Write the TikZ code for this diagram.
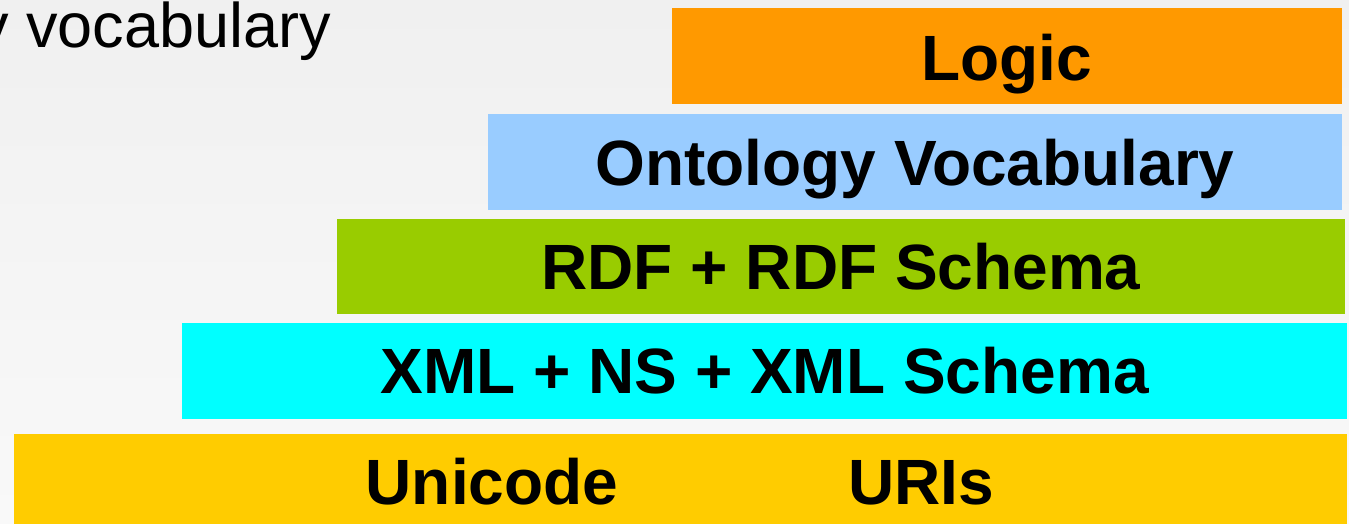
\documentclass[tikz,border=0pt]{standalone}
\usepackage{fontspec}
\setmainfont{Liberation Sans}
\begin{document}
\begin{tikzpicture}[x=1pt,y=-1pt,
  layer/.style={draw=none,inner sep=0pt,outer sep=0pt,anchor=north west},
  lbl/.style={inner sep=0pt,anchor=base,font=\fontsize{64}{70}\selectfont\bfseries,text=black},
  plain/.style={inner sep=0pt,anchor=base west,font=\fontsize{63}{70}\selectfont,text=black}]
\useasboundingbox (0,0) rectangle (1349,523);
\clip (0,0) rectangle (1349,523);
\shade[top color={rgb,255:red,240;green,240;blue,240},bottom color={rgb,255:red,249;green,249;blue,249}] (0,0) rectangle (1349,523);
\definecolor{clogic}{RGB}{255,153,0}
\definecolor{conto}{RGB}{153,204,255}
\definecolor{crdf}{RGB}{153,204,0}
\definecolor{cxml}{RGB}{0,255,255}
\definecolor{cuni}{RGB}{255,204,0}
\node[plain] (cut) at (-23,47) {y vocabulary};
\node[layer,fill=clogic,minimum width=670pt,minimum height=96pt] (logic) at (672,8) {};
\node[layer,fill=conto,minimum width=854pt,minimum height=96pt] (onto) at (488,114) {};
\node[layer,fill=crdf,minimum width=1008pt,minimum height=95pt] (rdf) at (337,219) {};
\node[layer,fill=cxml,minimum width=1165pt,minimum height=96pt] (xml) at (182,323) {};
\node[layer,fill=cuni,minimum width=1333pt,minimum height=100pt] (uni) at (14,434) {};
\node[lbl] (tlogic) at (1007,80) {Logic};
\node[lbl] (tonto) at (915,185.5) {Ontology Vocabulary};
\node[lbl] (trdf) at (841,289) {RDF + RDF Schema};
\node[lbl] (txml) at (764.5,393.5) {XML + NS + XML Schema};
\node[lbl] (tuni) at (492,504) {Unicode};
\node[lbl] (turi) at (921,504) {URIs};
\end{tikzpicture}
\end{document}
